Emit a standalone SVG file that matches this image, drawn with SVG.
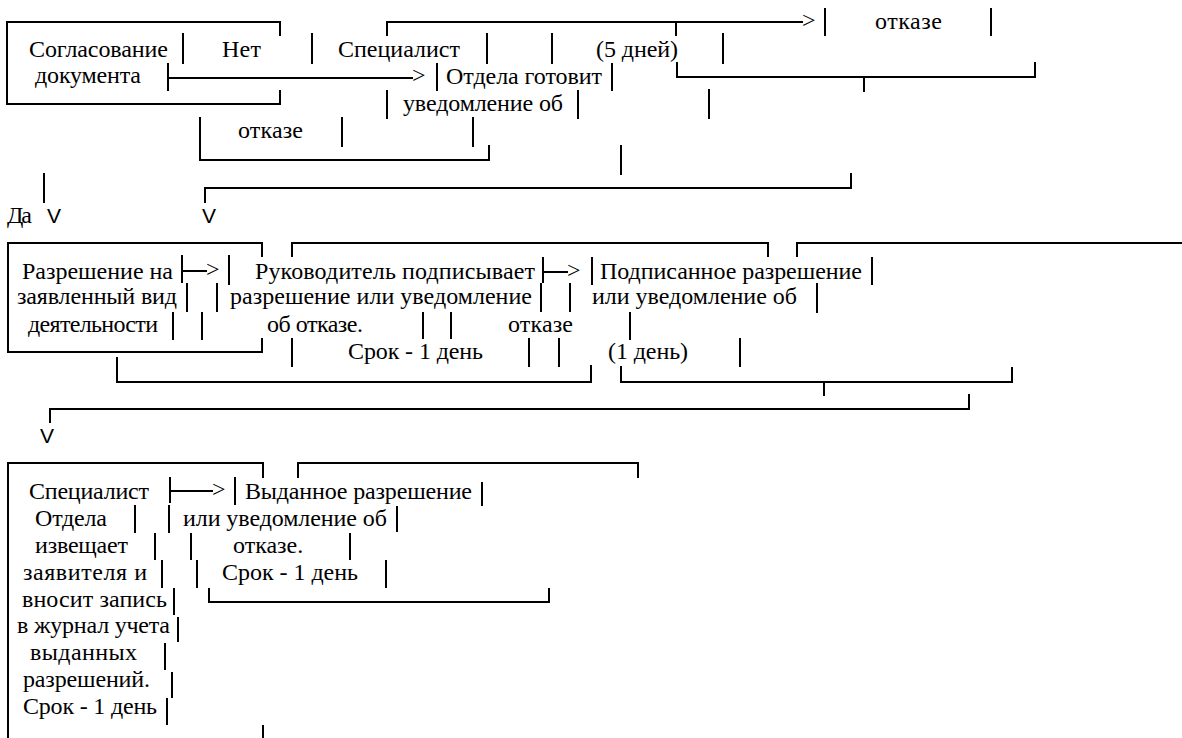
<svg xmlns="http://www.w3.org/2000/svg" width="1182" height="738" viewBox="0 0 1182 738">
<style>
.ln{stroke:#000;stroke-width:2;fill:none;stroke-linejoin:miter}
</style>
<rect width="1182" height="738" fill="#fff"/>
<g id="connectors" class="ln">
<path d="M280,36V22H7V104H280V90"/>
<path d="M183,33V64M312,33V64"/>
<path d="M168,63V91M168,78H413"/>
<path d="M387,36V22H803M676,22V36"/>
<path d="M825,8V36M991,8V36"/>
<path d="M487,33V64M552,33V64M723,33V64"/>
<path d="M437,63V91M612,63V91"/>
<path d="M677,62V77H1035V62M864,77V92"/>
<path d="M387,90V119M578,90V119M709,89V119"/>
<path d="M200,117V160H489V145M342,117V147M473,117V147"/>
<path d="M621,145V175"/>
<path d="M44,173V203"/>
<path d="M205,203V188H851V173"/>
<path d="M262,257V243H8V352H262V338"/>
<path d="M292,257V243H768V257"/>
<path d="M797,257V243H1182"/>
<path d="M182,255V283M182,271H207"/>
<path d="M229,255V285"/>
<path d="M543,257V283M543,272H568"/>
<path d="M592,257V285M872,257V285"/>
<path d="M187,283V312M217,283V312M541,283V312M570,283V312M817,283V313"/>
<path d="M173,312V340M202,312V340M423,312V339M451,312V339M630,312V340"/>
<path d="M292,338V367M529,338V367M559,338V367M740,338V367"/>
<path d="M117,357V382H591V365"/>
<path d="M621,366V382H1012V367M824,382V396"/>
<path d="M50,423V409H969V394"/>
<path d="M263,478V463H8V738"/>
<path d="M298,478V463H638V478"/>
<path d="M170,477V503M170,491H213"/>
<path d="M235,477V505M482,482V506"/>
<path d="M135,505V533M169,505V533M397,506V532"/>
<path d="M155,533V560M191,533V560M350,533V560"/>
<path d="M162,560V588M197,560V588M386,560V588"/>
<path d="M174,588V615"/>
<path d="M209,588V602H549V588"/>
<path d="M178,617V642M165,643V670M172,672V698M167,698V725M263,725V738"/>
</g>
<g id="arrowheads" font-family="Liberation Serif" font-size="24" fill="#000">
<text x="412" y="83">&gt;</text>
<text x="802" y="28">&gt;</text>
<text x="206" y="277">&gt;</text>
<text x="567" y="278">&gt;</text>
<text x="212" y="497">&gt;</text>
</g>
<g id="labels" font-size="24" fill="#000">
<text x="222" y="57" font-family="Liberation Serif" textLength="39">Нет</text>
<text x="7" y="223" font-family="Liberation Serif" textLength="25">Да</text>
<text x="47" y="223" font-family="Liberation Sans" font-size="21">V</text>
<text x="202" y="223" font-family="Liberation Sans" font-size="21">V</text>
<text x="40" y="443" font-family="Liberation Sans" font-size="21">V</text>
</g>
<g id="node-soglasovanie" font-family="Liberation Serif" font-size="24" fill="#000">
<text x="29" y="57" textLength="139">Согласование</text>
<text x="35" y="83" textLength="106">документа</text>
</g>
<g id="node-otkaz" font-family="Liberation Serif" font-size="24" fill="#000">
<text x="338" y="57" textLength="122">Специалист</text>
<text x="596" y="57" textLength="82">(5 дней)</text>
<text x="875" y="29" textLength="67">отказе</text>
<text x="446" y="84" textLength="156">Отдела готовит</text>
<text x="403" y="111" textLength="160">уведомление об</text>
<text x="238" y="138" textLength="65">отказе</text>
</g>
<g id="node-razreshenie" font-family="Liberation Serif" font-size="24" fill="#000">
<text x="22" y="279" textLength="151">Разрешение на</text>
<text x="17" y="304" textLength="160">заявленный вид</text>
<text x="28" y="332" textLength="130">деятельности</text>
</g>
<g id="node-rukovoditel" font-family="Liberation Serif" font-size="24" fill="#000">
<text x="255" y="279" textLength="280">Руководитель подписывает</text>
<text x="230" y="304" textLength="302">разрешение или уведомление</text>
<text x="267" y="332" textLength="96">об отказе.</text>
<text x="348" y="359" textLength="135">Срок - 1 день</text>
</g>
<g id="node-podpisannoe" font-family="Liberation Serif" font-size="24" fill="#000">
<text x="600" y="279" textLength="262">Подписанное разрешение</text>
<text x="592" y="304" textLength="205">или уведомление об</text>
<text x="508" y="332" textLength="65">отказе</text>
<text x="608" y="359" textLength="80">(1 день)</text>
</g>
<g id="node-specialist" font-family="Liberation Serif" font-size="24" fill="#000">
<text x="29" y="499" textLength="120">Специалист</text>
<text x="35" y="526" textLength="72">Отдела</text>
<text x="35" y="553" textLength="93">извещает</text>
<text x="23" y="580" textLength="124">заявителя и</text>
<text x="22" y="607" textLength="145">вносит запись</text>
<text x="17" y="633" textLength="153">в журнал учета</text>
<text x="30" y="660" textLength="107">выданных</text>
<text x="23" y="687" textLength="127">разрешений.</text>
<text x="23" y="714" textLength="134">Срок - 1 день</text>
</g>
<g id="node-vydannoe" font-family="Liberation Serif" font-size="24" fill="#000">
<text x="245" y="499" textLength="227">Выданное разрешение</text>
<text x="183" y="526" textLength="204">или уведомление об</text>
<text x="233" y="553">отказе.</text>
<text x="222" y="580" textLength="136">Срок - 1 день</text>
</g>
</svg>
